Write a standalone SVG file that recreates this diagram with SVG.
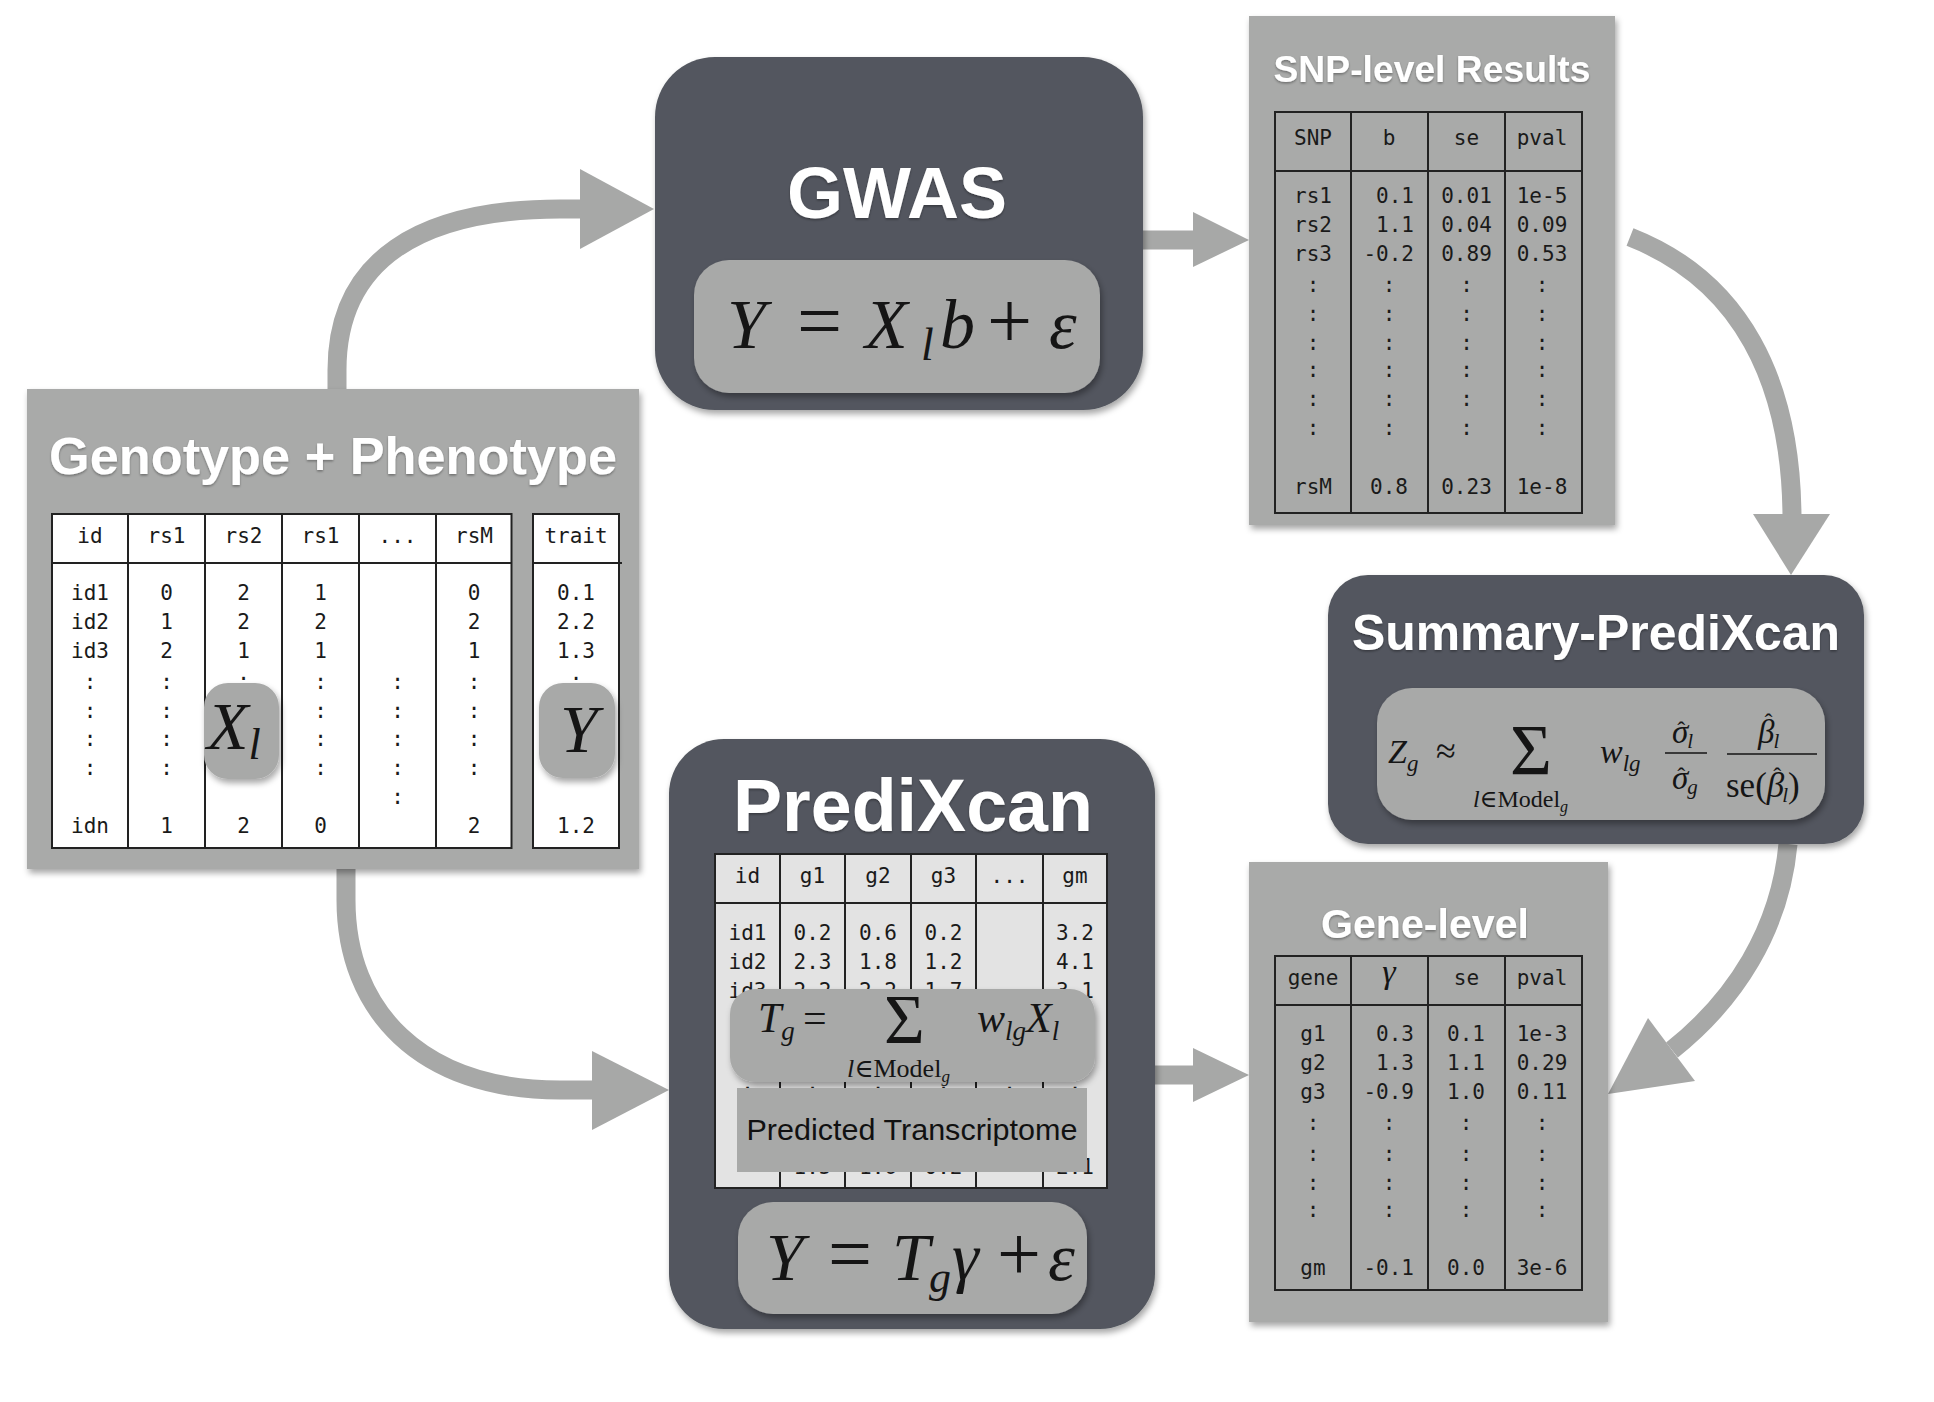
<svg xmlns="http://www.w3.org/2000/svg" width="1934" height="1402" viewBox="0 0 1934 1402">
<defs>
<style>
.panel{fill:#a9aaa9}
.dark{fill:#53575e}
.fbox{fill:#a8a9a8}
.title{font-family:"Liberation Sans",Arial,sans-serif;font-weight:bold;fill:#ffffff;text-anchor:middle}
.mono{font-family:"DejaVu Sans Mono","Liberation Mono",monospace;font-size:21px;fill:#1a1a1a;text-anchor:middle}
.mono .e,.e{text-anchor:end}
.grid{fill:none;stroke:#222;stroke-width:2}
.math{font-family:"Liberation Serif","DejaVu Serif",serif;fill:#151515}
.it{font-style:italic}
.up{font-style:normal}
.conn{fill:none;stroke:#a7a8a7;stroke-width:19}
.head{fill:#a7a8a7}
</style>
<filter id="sh" x="-10%" y="-10%" width="125%" height="130%">
<feDropShadow dx="2" dy="4" stdDeviation="3" flood-color="#000" flood-opacity="0.35"/>
</filter>
<filter id="tsh" x="-5%" y="-20%" width="110%" height="150%">
<feDropShadow dx="0" dy="1.5" stdDeviation="1" flood-color="#000" flood-opacity="0.35"/>
</filter>
</defs>
<rect width="1934" height="1402" fill="#ffffff"/>

<g id="connectors">
<path class="conn" d="M337 389 V370 C337 260 420 209 560 209 H585"/>
<polygon class="head" points="580,169 654,209 580,249"/>
<path class="conn" d="M346 869 V900 C346 1010 420 1090 560 1090 H600"/>
<polygon class="head" points="592,1051 669,1090 592,1130"/>
<path class="conn" d="M1143 240 H1196"/>
<polygon class="head" points="1193,212 1249,240 1193,267"/>
<path class="conn" d="M1630 237 C1740 280 1792 380 1792 520"/>
<polygon class="head" points="1753,514 1830,514 1791,575"/>
<path class="conn" d="M1788 844 C1780 930 1735 1000 1672 1050"/>
<polygon class="head" points="1648,1018 1695,1081 1608,1094"/>
<path class="conn" d="M1155 1075 H1196"/>
<polygon class="head" points="1193,1048 1249,1075 1193,1102"/>
</g>

<g id="genotype-phenotype">
<rect class="panel" x="27" y="389" width="612" height="480" filter="url(#sh)"/>
<text class="title" x="333" y="474" font-size="52" textLength="568" lengthAdjust="spacingAndGlyphs" filter="url(#tsh)">Genotype + Phenotype</text>
<rect x="52" y="514" width="459.5" height="334" fill="#ffffff" stroke="#222" stroke-width="2"/>
<path class="grid" d="M128 514 V848 M205 514 V848 M282 514 V848 M359 514 V848 M436 514 V848 M52 563 H511.5"/>
<rect x="533" y="514" width="86" height="334" fill="#ffffff" stroke="#222" stroke-width="2"/>
<path class="grid" d="M533 563 H622"/>
<g class="mono">
<text x="90" y="543">id</text><text x="166.5" y="543">rs1</text><text x="243.5" y="543">rs2</text><text x="320.5" y="543">rs1</text><text x="397.5" y="543">...</text><text x="474" y="543">rsM</text><text x="576" y="543">trait</text>
<text x="90" y="600">id1</text><text x="90" y="629">id2</text><text x="90" y="658">id3</text>
<text x="90" y="689">:</text><text x="90" y="718">:</text><text x="90" y="746">:</text><text x="90" y="775">:</text><text x="90" y="833">idn</text>
<text x="166.5" y="600">0</text><text x="166.5" y="629">1</text><text x="166.5" y="658">2</text>
<text x="166.5" y="689">:</text><text x="166.5" y="718">:</text><text x="166.5" y="746">:</text><text x="166.5" y="775">:</text><text x="166.5" y="833">1</text>
<text x="243.5" y="600">2</text><text x="243.5" y="629">2</text><text x="243.5" y="658">1</text>
<text x="243.5" y="680">.</text><text x="243.5" y="833">2</text>
<text x="320.5" y="600">1</text><text x="320.5" y="629">2</text><text x="320.5" y="658">1</text>
<text x="320.5" y="689">:</text><text x="320.5" y="718">:</text><text x="320.5" y="746">:</text><text x="320.5" y="775">:</text><text x="320.5" y="833">0</text>
<text x="397.5" y="689">:</text><text x="397.5" y="718">:</text><text x="397.5" y="746">:</text><text x="397.5" y="775">:</text><text x="397.5" y="804">:</text>
<text x="474" y="600">0</text><text x="474" y="629">2</text><text x="474" y="658">1</text>
<text x="474" y="689">:</text><text x="474" y="718">:</text><text x="474" y="746">:</text><text x="474" y="775">:</text><text x="474" y="833">2</text>
<text x="576" y="600">0.1</text><text x="576" y="629">2.2</text><text x="576" y="658">1.3</text>
<text x="576" y="680">.</text><text x="576" y="833">1.2</text>
</g>
<rect class="fbox" x="204" y="683" width="75" height="96" rx="24" filter="url(#sh)"/>
<text class="math it" x="207" y="749" font-size="68">X<tspan font-size="44" dy="10">l</tspan></text>
<rect class="fbox" x="539" y="683" width="76" height="95" rx="24" filter="url(#sh)"/>
<text class="math it" x="579" y="752" font-size="68" text-anchor="middle">Y</text>
</g>

<g id="gwas">
<rect class="dark" x="655" y="57" width="488" height="353" rx="60" filter="url(#sh)"/>
<text class="title" x="897" y="218" font-size="72" filter="url(#tsh)">GWAS</text>
<rect class="fbox" x="694" y="260" width="406" height="133" rx="35" filter="url(#sh)"/>
<text class="math" y="348" font-size="70"><tspan class="it" x="727">Y</tspan><tspan x="797" font-size="80">=</tspan><tspan class="it" x="865">X</tspan><tspan class="it" x="921" dy="12" font-size="46">l</tspan><tspan class="it" x="940" dy="-12">b</tspan><tspan x="987" font-size="80">+</tspan><tspan class="it" x="1049">ε</tspan></text>
</g>

<g id="snp-level-results">
<rect class="panel" x="1249" y="16" width="366" height="509" filter="url(#sh)"/>
<text class="title" x="1432" y="82" font-size="37" textLength="317" lengthAdjust="spacingAndGlyphs" filter="url(#tsh)">SNP-level Results</text>
<rect class="grid" x="1275" y="112" width="307" height="401"/>
<path class="grid" d="M1351 112 V513 M1428 112 V513 M1505 112 V513 M1275 171 H1582"/>
<g class="mono">
<text x="1313" y="145">SNP</text><text x="1389" y="145">b</text><text x="1466.5" y="145">se</text><text x="1542" y="145">pval</text>
<text x="1313" y="203">rs1</text><text x="1313" y="232">rs2</text><text x="1313" y="261">rs3</text>
<text class="e" x="1414" y="203">0.1</text><text class="e" x="1414" y="232">1.1</text><text class="e" x="1414" y="261">-0.2</text>
<text x="1466.5" y="203">0.01</text><text x="1466.5" y="232">0.04</text><text x="1466.5" y="261">0.89</text>
<text x="1542" y="203">1e-5</text><text x="1542" y="232">0.09</text><text x="1542" y="261">0.53</text>
<text x="1313" y="292">:</text><text x="1313" y="321">:</text><text x="1313" y="350">:</text><text x="1313" y="377">:</text><text x="1313" y="406">:</text><text x="1313" y="435">:</text>
<text x="1389" y="292">:</text><text x="1389" y="321">:</text><text x="1389" y="350">:</text><text x="1389" y="377">:</text><text x="1389" y="406">:</text><text x="1389" y="435">:</text>
<text x="1466.5" y="292">:</text><text x="1466.5" y="321">:</text><text x="1466.5" y="350">:</text><text x="1466.5" y="377">:</text><text x="1466.5" y="406">:</text><text x="1466.5" y="435">:</text>
<text x="1542" y="292">:</text><text x="1542" y="321">:</text><text x="1542" y="350">:</text><text x="1542" y="377">:</text><text x="1542" y="406">:</text><text x="1542" y="435">:</text>
<text x="1313" y="494">rsM</text><text x="1389" y="494">0.8</text><text x="1466.5" y="494">0.23</text><text x="1542" y="494">1e-8</text>
</g>
</g>

<g id="summary-predixcan">
<rect class="dark" x="1328" y="575" width="536" height="269" rx="40" filter="url(#sh)"/>
<text class="title" x="1596" y="650" font-size="50" textLength="488" lengthAdjust="spacingAndGlyphs" filter="url(#tsh)">Summary-PrediXcan</text>
<rect class="fbox" x="1377" y="688" width="448" height="132" rx="35" filter="url(#sh)"/>
<g class="math">
<text class="it" x="1388" y="763" font-size="34">Z<tspan font-size="23" dy="8">g</tspan></text>
<text x="1436" y="763" font-size="36">≈</text>
<text x="1510" y="774" font-size="72">Σ</text>
<text x="1473" y="807" font-size="24"><tspan class="it">l</tspan>∈Model<tspan class="it" font-size="16" dy="5">g</tspan></text>
<text class="it" x="1600" y="763" font-size="34">w<tspan font-size="23" dy="8">lg</tspan></text>
<text class="it" x="1672" y="743" font-size="33">σ<tspan class="up" font-size="24" dx="-11" dy="-5">ˆ</tspan><tspan font-size="21" dx="2" dy="10">l</tspan></text>
<line x1="1665" y1="753" x2="1707" y2="753" stroke="#151515" stroke-width="1.5"/>
<text class="it" x="1672" y="789" font-size="33">σ<tspan class="up" font-size="24" dx="-11" dy="-5">ˆ</tspan><tspan font-size="21" dx="2" dy="10">g</tspan></text>
<text class="it" x="1758" y="743" font-size="33">β<tspan class="up" font-size="24" dx="-10" dy="-13">ˆ</tspan><tspan font-size="21" dx="1" dy="18">l</tspan></text>
<line x1="1727" y1="754" x2="1817" y2="754" stroke="#151515" stroke-width="1.5"/>
<text x="1726" y="797" font-size="35">se(<tspan class="it">β</tspan><tspan font-size="24" dx="-11" dy="-13">ˆ</tspan><tspan class="it" font-size="21" dx="1" dy="18">l</tspan><tspan dy="-5">)</tspan></text>
</g>
</g>

<g id="predixcan">
<rect class="dark" x="669" y="739" width="486" height="590" rx="55" filter="url(#sh)"/>
<text class="title" x="913" y="831" font-size="74" textLength="360" lengthAdjust="spacingAndGlyphs" filter="url(#tsh)">PrediXcan</text>
<rect x="715" y="854" width="392" height="334" fill="#e3e3e3" stroke="#222" stroke-width="2"/>
<path class="grid" d="M780 854 V1188 M845 854 V1188 M911 854 V1188 M976 854 V1188 M1043 854 V1188 M715 903 H1107"/>
<g class="mono">
<text x="747.5" y="883">id</text><text x="812.5" y="883">g1</text><text x="878" y="883">g2</text><text x="943.5" y="883">g3</text><text x="1009.5" y="883">...</text><text x="1075" y="883">gm</text>
<text x="747.5" y="940">id1</text><text x="812.5" y="940">0.2</text><text x="878" y="940">0.6</text><text x="943.5" y="940">0.2</text><text x="1075" y="940">3.2</text>
<text x="747.5" y="969">id2</text><text x="812.5" y="969">2.3</text><text x="878" y="969">1.8</text><text x="943.5" y="969">1.2</text><text x="1075" y="969">4.1</text>
<text x="747.5" y="998">id3</text><text x="812.5" y="998">2.2</text><text x="878" y="998">2.2</text><text x="943.5" y="998">1.7</text><text x="1075" y="998">3.1</text>
<text x="747.5" y="1098">:</text><text x="812.5" y="1098">:</text><text x="878" y="1098">:</text><text x="943.5" y="1098">:</text><text x="1009.5" y="1098">:</text><text x="1075" y="1098">:</text>
<text x="812.5" y="1174">1.5</text><text x="878" y="1174">1.6</text><text x="943.5" y="1174">0.2</text><text x="1075" y="1174">2.1</text>
</g>
<rect class="fbox" x="730" y="989" width="365" height="93" rx="25" filter="url(#sh)"/>
<g class="math">
<text class="it" x="758" y="1032" font-size="42">T<tspan font-size="27" dy="8">g</tspan></text>
<text x="803" y="1032" font-size="42">=</text>
<text x="884" y="1043" font-size="70">Σ</text>
<text x="847" y="1077" font-size="26"><tspan class="it">l</tspan>∈Model<tspan class="it" font-size="17" dy="5">g</tspan></text>
<text class="it" x="977" y="1032" font-size="42">w<tspan font-size="27" dy="8">lg</tspan><tspan dy="-8">X</tspan><tspan font-size="27" dy="8">l</tspan></text>
</g>
<rect x="737" y="1088" width="350" height="84" fill="#a8a9a8"/>
<text x="912" y="1140" font-family="Liberation Sans, Arial, sans-serif" font-size="30" fill="#111" text-anchor="middle" textLength="331" lengthAdjust="spacingAndGlyphs">Predicted Transcriptome</text>
<rect class="fbox" x="738" y="1202" width="349" height="112" rx="35" filter="url(#sh)"/>
<text class="math" y="1280" font-size="68"><tspan class="it" x="766">Y</tspan><tspan x="828" font-size="78">=</tspan><tspan class="it" x="892">T</tspan><tspan class="it" x="929" dy="12" font-size="44">g</tspan><tspan class="it" x="952" dy="-12">γ</tspan><tspan x="997" font-size="78">+</tspan><tspan class="it" x="1048">ε</tspan></text>
</g>

<g id="gene-level">
<rect class="panel" x="1249" y="862" width="359" height="460" filter="url(#sh)"/>
<text class="title" x="1425" y="938" font-size="40" textLength="208" lengthAdjust="spacingAndGlyphs" filter="url(#tsh)">Gene-level</text>
<rect class="grid" x="1275" y="956" width="307" height="334"/>
<path class="grid" d="M1351 956 V1290 M1428 956 V1290 M1505 956 V1290 M1275 1005 H1582"/>
<g class="mono">
<text x="1313" y="985">gene</text><text x="1466.5" y="985">se</text><text x="1542" y="985">pval</text>
<text x="1313" y="1041">g1</text><text x="1313" y="1070">g2</text><text x="1313" y="1099">g3</text>
<text class="e" x="1414" y="1041">0.3</text><text class="e" x="1414" y="1070">1.3</text><text class="e" x="1414" y="1099">-0.9</text>
<text x="1466" y="1041">0.1</text><text x="1466" y="1070">1.1</text><text x="1466" y="1099">1.0</text>
<text x="1542" y="1041">1e-3</text><text x="1542" y="1070">0.29</text><text x="1542" y="1099">0.11</text>
<text x="1313" y="1130">:</text><text x="1313" y="1161">:</text><text x="1313" y="1190">:</text><text x="1313" y="1217">:</text>
<text x="1389" y="1130">:</text><text x="1389" y="1161">:</text><text x="1389" y="1190">:</text><text x="1389" y="1217">:</text>
<text x="1466" y="1130">:</text><text x="1466" y="1161">:</text><text x="1466" y="1190">:</text><text x="1466" y="1217">:</text>
<text x="1542" y="1130">:</text><text x="1542" y="1161">:</text><text x="1542" y="1190">:</text><text x="1542" y="1217">:</text>
<text x="1313" y="1275">gm</text><text class="e" x="1414" y="1275">-0.1</text><text x="1466" y="1275">0.0</text><text x="1542" y="1275">3e-6</text>
</g>
<text class="math it" x="1389" y="983" font-size="34" text-anchor="middle">γ</text>
</g>
</svg>
